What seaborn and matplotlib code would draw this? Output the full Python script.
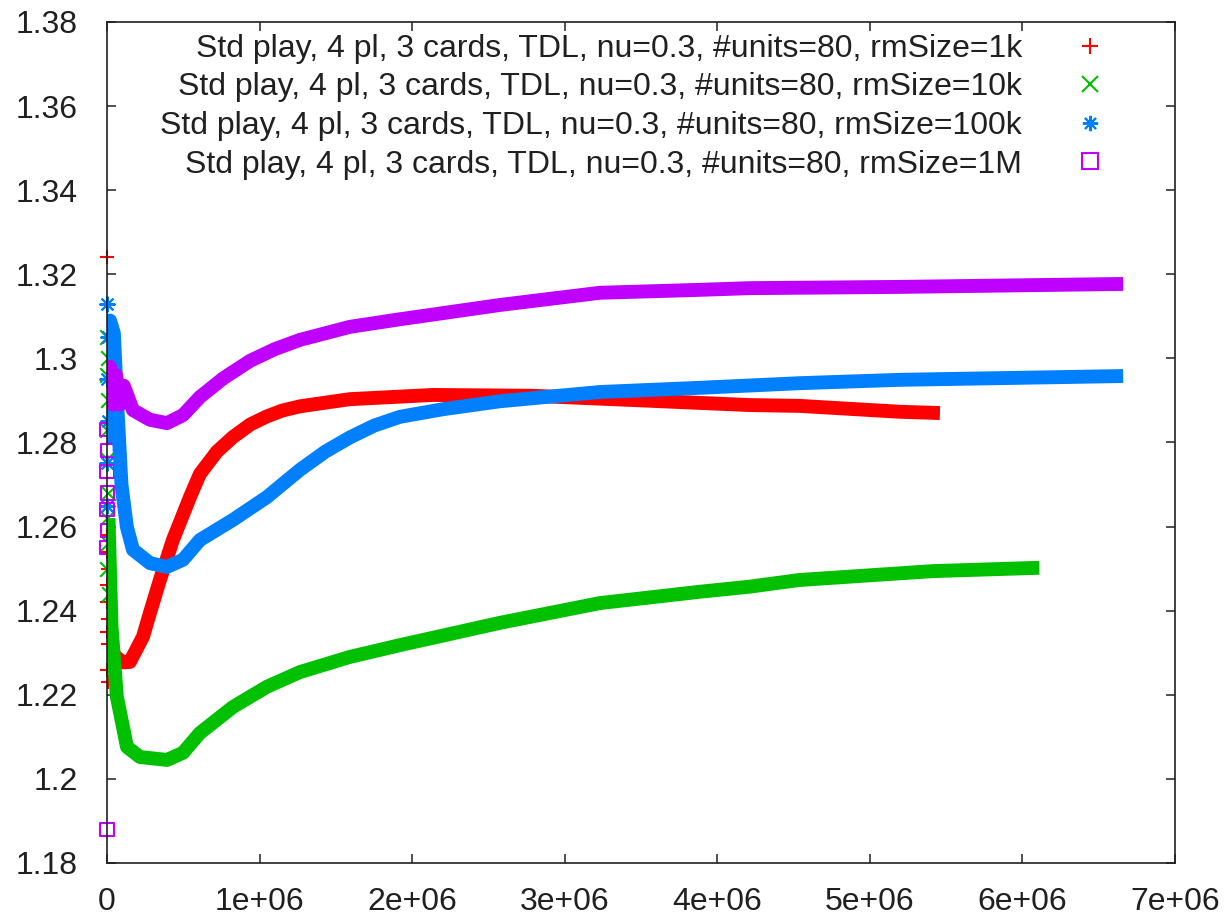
import numpy as np
import pandas as pd
import matplotlib
matplotlib.use("Agg")
import matplotlib.pyplot as plt
from matplotlib.lines import Line2D
import seaborn as sns

sns.set_style("ticks")
plt.rcParams["font.family"] = ["Liberation Sans", "DejaVu Sans"]

# series (x = training steps, y = score)
red_x = [20e3, 60e3, 105e3, 150e3, 236e3, 282e3, 347e3, 432e3, 544e3, 609e3, 720e3, 826e3, 940e3,
         1.048e6, 1.15e6, 1.265e6, 1.592e6, 2.136e6, 2.79e6, 3.446e6, 4.21e6, 4.54e6, 5.197e6, 5.459e6]
red_y = [1.231, 1.229, 1.2277, 1.2278, 1.2338, 1.2395, 1.2473, 1.2568, 1.267, 1.2725, 1.2778, 1.2813, 1.2843,
         1.2862, 1.2876, 1.2886, 1.2903, 1.2913, 1.2911, 1.2901, 1.2889, 1.2887, 1.2873, 1.287]

green_x = [10e3, 30e3, 65e3, 131e3, 216e3, 393e3, 498e3, 609e3, 826e3, 1.048e6, 1.265e6,
           1.592e6, 1.92e6, 2.575e6, 3.23e6, 3.886e6, 4.21e6, 4.54e6, 5.41e6, 6.11e6]
green_y = [1.262, 1.236, 1.2195, 1.2076, 1.2052, 1.2045, 1.2062, 1.2109, 1.2171, 1.2219, 1.2254,
           1.229, 1.2318, 1.2371, 1.2418, 1.2445, 1.2457, 1.2473, 1.2494, 1.2502]

blue_x = [5e3, 20e3, 45e3, 70e3, 95e3, 130e3, 170e3, 282e3, 393e3, 498e3, 609e3, 826e3, 1.048e6,
          1.265e6, 1.43e6, 1.592e6, 1.75e6, 1.92e6, 2.2e6, 2.575e6, 3.23e6, 3.886e6, 4.54e6,
          5.197e6, 5.85e6, 6.66e6]
blue_y = [1.28, 1.309, 1.306, 1.287, 1.270, 1.260, 1.2545, 1.2513, 1.2504, 1.2521, 1.2568, 1.2616, 1.267,
          1.2735, 1.2778, 1.2812, 1.284, 1.2861, 1.2879, 1.2898, 1.292, 1.293, 1.2941,
          1.2949, 1.2953, 1.2958]

purple_x = [5e3, 20e3, 40e3, 60e3, 85e3, 110e3, 170e3, 282e3, 393e3, 498e3, 609e3, 760e3, 937e3,
            1.1e6, 1.265e6, 1.592e6, 1.92e6, 2.575e6, 3.23e6, 3.886e6, 4.21e6, 5.2e6, 6.66e6]
purple_y = [1.292, 1.298, 1.289, 1.296, 1.289, 1.2935, 1.2877, 1.2854, 1.2846, 1.2865, 1.2908, 1.2952, 1.2994,
            1.3022, 1.3044, 1.3075, 1.3093, 1.3127, 1.3156, 1.3163, 1.3167, 1.317, 1.3177]

# scattered early points sitting on the y axis
red_noise_x = [0, 3e3, 0, 5e3, 2e3, 0, 6e3, 0, 4e3, 0, 8e3]
red_noise_y = [1.324, 1.258, 1.254, 1.25, 1.246, 1.242, 1.238, 1.235, 1.232, 1.226, 1.223]
green_noise_x = [0, 4e3, 0, 6e3, 2e3, 0, 5e3, 0, 8e3, 3e3, 10e3]
green_noise_y = [1.305, 1.30, 1.296, 1.29, 1.283, 1.276, 1.268, 1.262, 1.256, 1.25, 1.244]
blue_noise_x = [0, 5e3, 0, 8e3, 0, 3e3]
blue_noise_y = [1.313, 1.305, 1.295, 1.285, 1.275, 1.265]
purple_noise_x = [0, 0, 4e3, 0, 6e3, 0, 3e3, 0]
purple_noise_y = [1.188, 1.255, 1.259, 1.264, 1.268, 1.273, 1.278, 1.283]

labels = ["Std play, 4 pl, 3 cards, TDL, nu=0.3, #units=80, rmSize=1k",
          "Std play, 4 pl, 3 cards, TDL, nu=0.3, #units=80, rmSize=10k",
          "Std play, 4 pl, 3 cards, TDL, nu=0.3, #units=80, rmSize=100k",
          "Std play, 4 pl, 3 cards, TDL, nu=0.3, #units=80, rmSize=1M"]
colors = ["#ff0000", "#00c000", "#0080ff", "#c000ff"]
markers = ["+", "x", (8, 2, 0), "s"]

y_ticks = [1.18, 1.2, 1.22, 1.24, 1.26, 1.28, 1.3, 1.32, 1.34, 1.36, 1.38]
x_ticks = [0, 1e6, 2e6, 3e6, 4e6, 5e6, 6e6, 7e6]
x_ticklabels = ["0", "1e+06", "2e+06", "3e+06", "4e+06", "5e+06", "6e+06", "7e+06"]

series = [(red_x, red_y, red_noise_x, red_noise_y),
          (green_x, green_y, green_noise_x, green_noise_y),
          (blue_x, blue_y, blue_noise_x, blue_noise_y),
          (purple_x, purple_y, purple_noise_x, purple_noise_y)]

fig = plt.figure(figsize=(12.24, 9.16), dpi=100)
ax = fig.add_axes([0.0874, 0.0579, 0.8726, 0.9181])

for (sx, sy, nx, ny), col, mk in zip(series, colors, markers):
    sns.lineplot(x=sx, y=sy, ax=ax, color=col, linewidth=10, sort=False,
                 estimator=None, legend=False, solid_capstyle="butt")
    noise = pd.DataFrame({"x": nx, "y": ny})
    if mk == "s":
        sns.scatterplot(data=noise, x="x", y="y", ax=ax, marker=mk, s=90,
                        facecolors="none", edgecolor=col, linewidth=1.5, clip_on=False)
    else:
        sns.scatterplot(data=noise, x="x", y="y", ax=ax, marker=mk, s=110,
                        color=col, linewidth=1.5, clip_on=False)

ax.set_xlim(0, 7e6)
ax.set_ylim(1.18, 1.38)
ax.set_yticks(y_ticks)
ax.set_yticklabels([f"{v:g}" for v in y_ticks])
ax.set_xticks(x_ticks)
ax.set_xticklabels(x_ticklabels)
ax.set_xlabel("")
ax.set_ylabel("")

ax.tick_params(axis="both", direction="in", length=6.5, width=1.1, color="#202020",
               labelsize=23, labelcolor="#202020", top=True, right=True)
ax.tick_params(axis="y", pad=21)
ax.tick_params(axis="x", pad=17)
for sp in ax.spines.values():
    sp.set_visible(True)
    sp.set_linewidth(1.2)
    sp.set_color("#202020")

handles = [Line2D([], [], linestyle="none", marker=mk, color=col, markersize=11,
                  markeredgewidth=1.5, markerfacecolor="none" if mk == "s" else col)
           for col, mk in zip(colors, markers)]
ax.legend(handles=handles, labels=labels, loc="upper right", bbox_to_anchor=(0.95, 0.986),
          frameon=False, markerfirst=False, fontsize=23, handlelength=2.0,
          handletextpad=1.12, labelspacing=0.27, borderpad=0, borderaxespad=0,
          labelcolor="#202020")

fig.savefig("out.png", dpi=100)
